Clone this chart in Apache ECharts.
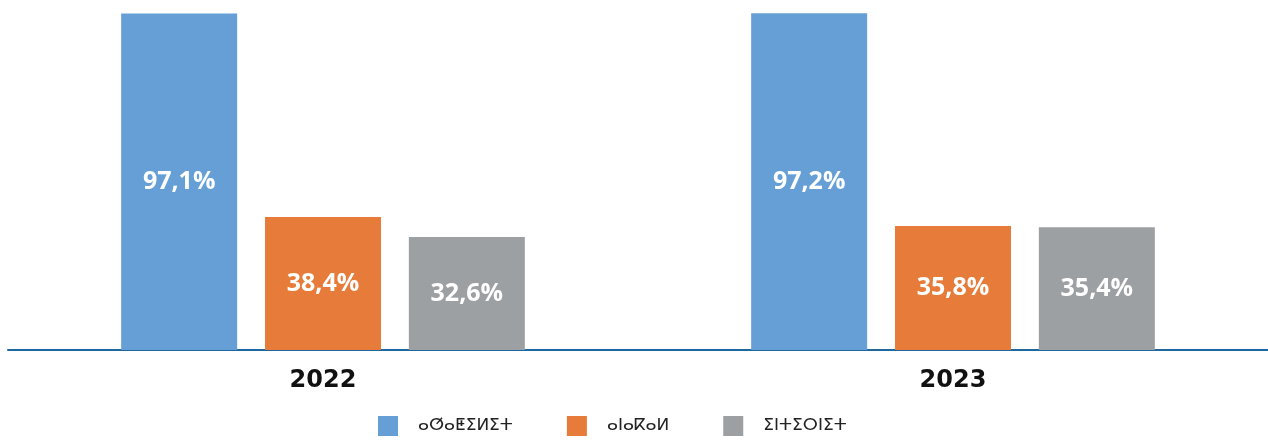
<!DOCTYPE html>
<html>
<head>
<meta charset="utf-8">
<script src="https://cdn.jsdelivr.net/npm/echarts@6/dist/echarts.min.js"></script>
<style>
  html, body { margin: 0; padding: 0; background: #fff; }
  #chart { width: 1268px; height: 441px; }
</style>
</head>
<body>
<div id="chart"></div>
<script>
// years on the x axis
var years = ['2022', '2023']
// series names (Tifinagh) and values in %
var seriesNames = ['ⴰⵚⴰⵟⵉⵍⵉⵜ', 'ⴰⵏⴰⴽⴰⵍ', 'ⵉⵏⵜⵉⵔⵏⵉⵜ']
var satelliteData = [97.1, 97.2]
var terrestrialData = [38.4, 35.8]
var internetData = [32.6, 35.4]

var colors = ['#659fd5', '#e77c3a', '#9da0a3']

var chart = echarts.init(document.getElementById('chart'))

function makeSeries(name, data, color) {
  return {
    name: name,
    type: 'bar',
    data: data,
    barWidth: 116,
    barGap: '24%',
    itemStyle: { color: color },
    label: {
      show: true,
      position: 'inside',
      color: '#fff',
      fontFamily: 'Open Sans',
      fontWeight: 'bold',
      fontSize: 25,
      formatter: function (p) {
        return p.value.toFixed(1).replace('.', ',') + '%'
      }
    }
  }
}

chart.setOption({
  animation: false,
  color: colors,
  legend: {
    bottom: 0,
    left: 373,
    itemWidth: 20,
    itemHeight: 20,
    itemGap: 54,
    icon: 'rect',
    textStyle: {
      fontFamily: 'DejaVu Sans',
      fontSize: 17,
      color: '#222',
      padding: [0, 0, 0, 15]
    },
    data: seriesNames
  },
  grid: {
    top: 0,
    left: 8,
    right: 0,
    bottom: 91
  },
  xAxis: {
    type: 'category',
    data: years,
    axisTick: { show: false },
    axisLine: {
      lineStyle: { color: '#1f679f', width: 2 }
    },
    axisLabel: {
      margin: 19,
      color: '#111',
      fontFamily: 'DejaVu Sans',
      fontWeight: 'bold',
      fontSize: 24
    }
  },
  yAxis: {
    type: 'value',
    min: 0,
    max: 101,
    show: false,
    splitLine: { show: false }
  },
  series: [
    makeSeries(seriesNames[0], satelliteData, colors[0]),
    makeSeries(seriesNames[1], terrestrialData, colors[1]),
    makeSeries(seriesNames[2], internetData, colors[2])
  ]
})
</script>
</body>
</html>
